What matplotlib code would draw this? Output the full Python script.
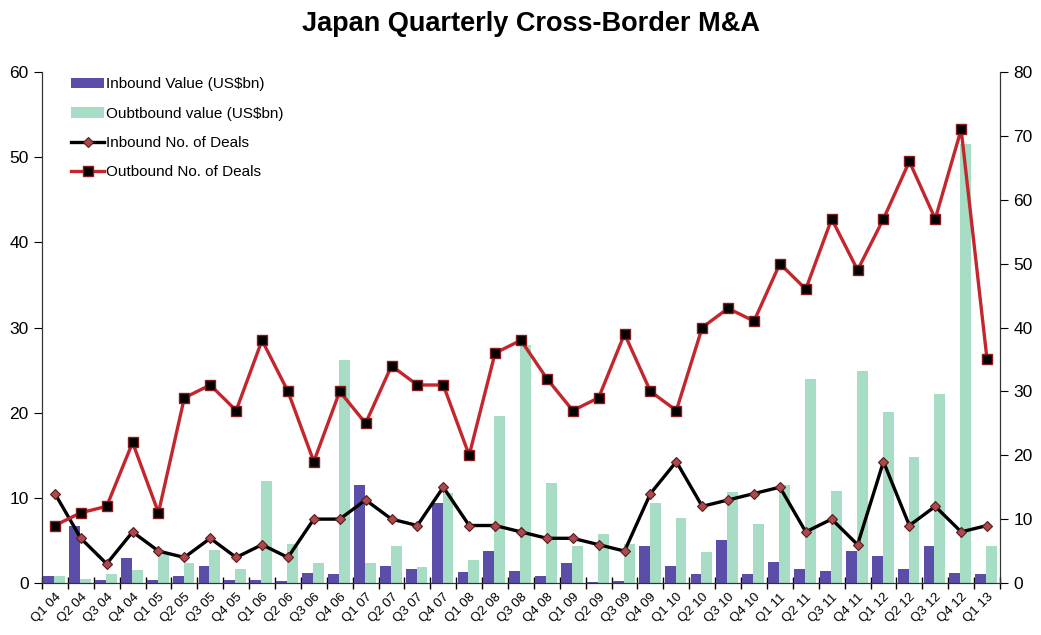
import numpy as np
import matplotlib
matplotlib.use('Agg')
import matplotlib.pyplot as plt
from matplotlib.ticker import FixedLocator, NullFormatter

plt.rcParams['font.family'] = ['Liberation Sans', 'DejaVu Sans']

# data
quarters = ['Q1 04', 'Q2 04', 'Q3 04', 'Q4 04', 'Q1 05', 'Q2 05', 'Q3 05', 'Q4 05',
            'Q1 06', 'Q2 06', 'Q3 06', 'Q4 06', 'Q1 07', 'Q2 07', 'Q3 07', 'Q4 07',
            'Q1 08', 'Q2 08', 'Q3 08', 'Q4 08', 'Q1 09', 'Q2 09', 'Q3 09', 'Q4 09',
            'Q1 10', 'Q2 10', 'Q3 10', 'Q4 10', 'Q1 11', 'Q2 11', 'Q3 11', 'Q4 11',
            'Q1 12', 'Q2 12', 'Q3 12', 'Q4 12', 'Q1 13']

inbound_value = [0.8, 6.7, 0.4, 2.9, 0.3, 0.8, 2.0, 0.4, 0.3, 0.2, 1.2, 1.05,
                 11.5, 2.0, 1.7, 9.4, 1.25, 3.8, 1.4, 0.85, 2.3, 0.15, 0.27, 4.3,
                 1.95, 1.05, 5.0, 1.1, 2.5, 1.7, 1.45, 3.8, 3.2, 1.6, 4.3, 1.2, 1.1]

outbound_value = [0.85, 0.5, 1.0, 1.5, 3.4, 2.3, 3.9, 1.7, 12.0, 4.6, 2.3, 26.2,
                  2.4, 4.3, 1.9, 10.6, 2.7, 19.6, 27.9, 11.7, 4.3, 5.8, 4.6, 9.4,
                  7.6, 3.6, 10.7, 6.9, 11.5, 24.0, 10.8, 24.9, 20.1, 14.8, 22.2, 51.6, 4.4]

inbound_deals = [14, 7, 3, 8, 5, 4, 7, 4, 6, 4, 10, 10, 13, 10, 9, 15, 9, 9, 8, 7,
                 7, 6, 5, 14, 19, 12, 13, 14, 15, 8, 10, 6, 19, 9, 12, 8, 9]

outbound_deals = [9, 11, 12, 22, 11, 29, 31, 27, 38, 30, 19, 30, 25, 34, 31, 31, 20,
                  36, 38, 32, 27, 29, 39, 30, 27, 40, 43, 41, 50, 46, 57, 49, 57, 66,
                  57, 71, 35]

x = np.arange(len(quarters))
w = 0.42

fig = plt.figure(figsize=(10.41, 6.35), dpi=100)
ax = fig.add_axes([0.0403, 0.0819, 0.9203, 0.8047])
ax2 = ax.twinx()

b1 = ax.bar(x - w / 2 - 0.03, inbound_value, w, color='#5a4ea8', label='Inbound Value (US$bn)', zorder=2)
b2 = ax.bar(x + w / 2 - 0.03, outbound_value, w, color='#a7dcc5', label='Oubtbound value (US$bn)', zorder=2)

l1, = ax2.plot(x, inbound_deals, color='black', lw=2.4, marker='D', ms=5.5,
               mfc='#a84a4e', mec='#5a1a1c', mew=0.8, label='Inbound No. of Deals')
l2, = ax2.plot(x, outbound_deals, color='#c4262e', lw=2.4, marker='s', ms=6.5,
               mfc='black', mec='#8a1a1e', mew=1.0, label='Outbound No. of Deals')

ax.set_xlim(-0.5, len(quarters) - 0.5)
ax.set_ylim(0, 60)
ax2.set_ylim(0, 80)
ax.set_yticks(range(0, 61, 10))
ax2.set_yticks(range(0, 81, 10))

# category labels at centres, tick marks at boundaries
ax.set_xticks(x)
ax.set_xticklabels(quarters, rotation=45, ha='right', rotation_mode='anchor', fontsize=9.5)
ax.tick_params(axis='x', length=0, pad=6)
ax.xaxis.set_minor_locator(FixedLocator(np.arange(-0.5, len(quarters), 1)))
ax.xaxis.set_minor_formatter(NullFormatter())
ax.tick_params(axis='x', which='minor', length=8, direction='inout', width=1)

ax.tick_params(axis='y', labelsize=12.5, length=6, direction='out')
ax2.tick_params(axis='y', labelsize=12.5, length=6, direction='out')

for a in (ax, ax2):
    a.spines['top'].set_visible(False)
    a.spines['left'].set_color('#333333')
    a.spines['right'].set_color('#333333')
    a.spines['bottom'].set_color('#333333')

fig.suptitle('Japan Quarterly Cross-Border M&A', fontsize=19.5, fontweight='bold', x=0.51, y=0.982)

leg = ax2.legend(handles=[b1, b2, l1, l2], loc='upper left',
                 bbox_to_anchor=(0.068, 0.878), bbox_transform=fig.transFigure,
                 frameon=False, fontsize=11, handlelength=2.2, handletextpad=0.1,
                 labelspacing=1.0, borderpad=0, borderaxespad=0)

fig.savefig('out.png', dpi=100)
